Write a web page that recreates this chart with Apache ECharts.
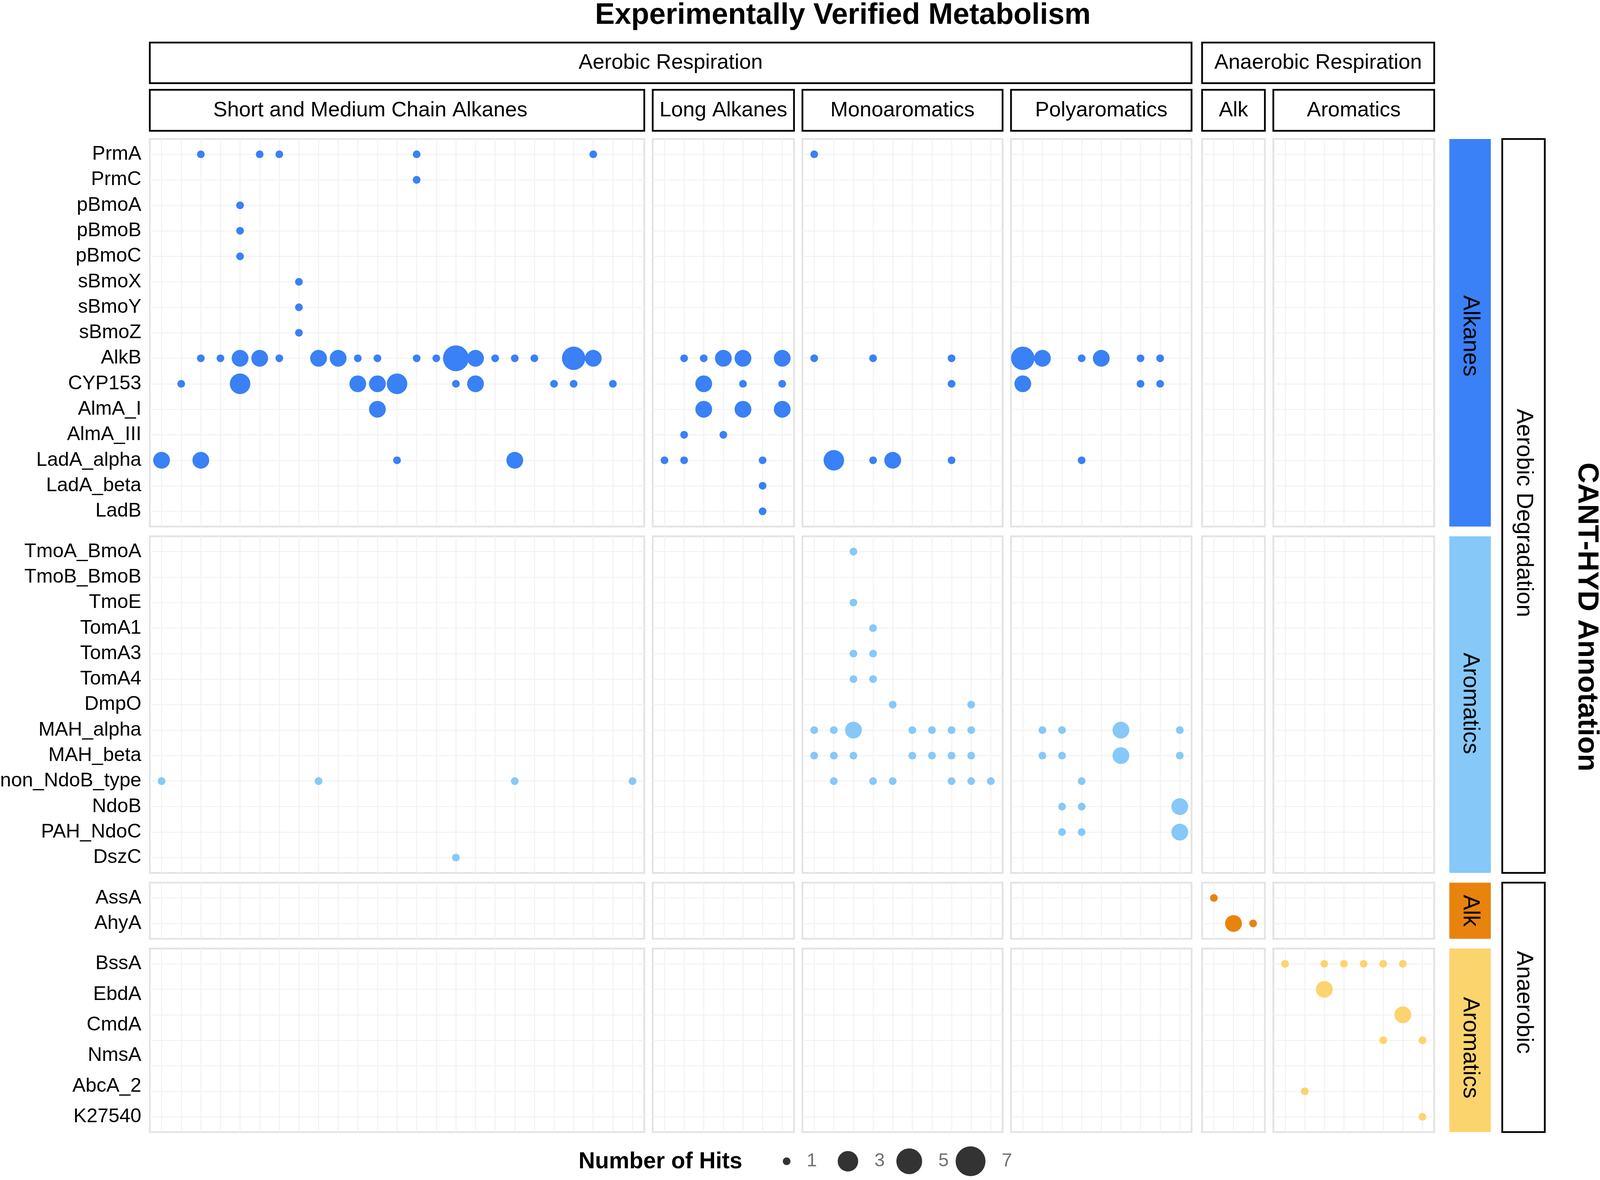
<!DOCTYPE html>
<html><head><meta charset="utf-8">
<script src="https://cdn.jsdelivr.net/npm/echarts@6/dist/echarts.min.js"></script>
<style>html,body{margin:0;padding:0;background:#fff;overflow:hidden}#c{width:100vw;height:100vh}</style>
</head><body><div id="c"></div>
<script>
// ---------------- DATA ----------------
const titleText = 'Experimentally Verified Metabolism';
const annotationTitle = 'CANT-HYD Annotation';
const legendTitle = 'Number of Hits';
const legendBreaks = [1, 3, 5, 7];
const hitRange = [1, 7];

const respirationGroups = ['Aerobic Respiration', 'Anaerobic Respiration'];
const respirationMembers = [[0, 1, 2, 3], [4, 5]];
const substrateGroups = ['Short and Medium Chain Alkanes', 'Long Alkanes', 'Monoaromatics', 'Polyaromatics', 'Alk', 'Aromatics'];
const organismsPerGroup = [25, 7, 10, 9, 3, 8];

const degradationGroups = ['Aerobic Degradation', 'Anaerobic'];
const degradationMembers = [[0, 1], [2, 3]];
const enzymeClasses = ['Alkanes', 'Aromatics', 'Alk', 'Aromatics'];
const classColors = ['#3A80F6', '#86C8F8', '#E8830E', '#FCD46E'];

const aerobicAlkaneGenes = ['PrmA', 'PrmC', 'pBmoA', 'pBmoB', 'pBmoC', 'sBmoX', 'sBmoY', 'sBmoZ', 'AlkB', 'CYP153', 'AlmA_I', 'AlmA_III', 'LadA_alpha', 'LadA_beta', 'LadB'];
const aerobicAromaticGenes = ['TmoA_BmoA', 'TmoB_BmoB', 'TmoE', 'TomA1', 'TomA3', 'TomA4', 'DmpO', 'MAH_alpha', 'MAH_beta', 'non_NdoB_type', 'NdoB', 'PAH_NdoC', 'DszC'];
const anaerobicAlkaneGenes = ['AssA', 'AhyA'];
const anaerobicAromaticGenes = ['BssA', 'EbdA', 'CmdA', 'NmsA', 'AbcA_2', 'K27540'];
// panel rows as drawn (one grid row carries no label in the source figure)
const anaerobicAromaticRows = ['BssA', 'EbdA', 'CmdA', 'NmsA', null, 'AbcA_2', 'K27540'];

// [gene, organism column within substrate group, number of hits]
const hitsShortMediumAlkanes = [
  ['PrmA',3,1],['PrmA',6,1],['PrmA',7,1],['PrmA',14,1],['PrmA',23,1],
  ['PrmC',14,1],
  ['pBmoA',5,1],['pBmoB',5,1],['pBmoC',5,1],
  ['sBmoX',8,1],['sBmoY',8,1],['sBmoZ',8,1],
  ['AlkB',3,1],['AlkB',4,1],['AlkB',5,2],['AlkB',6,2],['AlkB',7,1],['AlkB',9,2],['AlkB',10,2],['AlkB',11,1],['AlkB',12,1],
  ['AlkB',14,1],['AlkB',15,1],['AlkB',16,5],['AlkB',17,2],['AlkB',18,1],['AlkB',19,1],['AlkB',20,1],['AlkB',22,4],['AlkB',23,2],
  ['CYP153',2,1],['CYP153',5,3],['CYP153',11,2],['CYP153',12,2],['CYP153',13,3],['CYP153',16,1],['CYP153',17,2],
  ['CYP153',21,1],['CYP153',22,1],['CYP153',24,1],
  ['AlmA_I',12,2],
  ['LadA_alpha',1,2],['LadA_alpha',3,2],['LadA_alpha',13,1],['LadA_alpha',19,2],
  ['non_NdoB_type',1,1],['non_NdoB_type',9,1],['non_NdoB_type',19,1],['non_NdoB_type',25,1],
  ['DszC',16,1]
];
const hitsLongAlkanes = [
  ['AlkB',2,1],['AlkB',3,1],['AlkB',4,2],['AlkB',5,2],['AlkB',7,2],
  ['CYP153',3,2],['CYP153',5,1],['CYP153',7,1],
  ['AlmA_I',3,2],['AlmA_I',5,2],['AlmA_I',7,2],
  ['AlmA_III',2,1],['AlmA_III',4,1],
  ['LadA_alpha',1,1],['LadA_alpha',2,1],['LadA_alpha',6,1],
  ['LadA_beta',6,1],['LadB',6,1]
];
const hitsMonoaromatics = [
  ['PrmA',1,1],
  ['AlkB',1,1],['AlkB',4,1],['AlkB',8,1],
  ['CYP153',8,1],
  ['LadA_alpha',2,3],['LadA_alpha',4,1],['LadA_alpha',5,2],['LadA_alpha',8,1],
  ['TmoA_BmoA',3,1],['TmoE',3,1],['TomA1',4,1],['TomA3',3,1],['TomA3',4,1],['TomA4',3,1],['TomA4',4,1],
  ['DmpO',5,1],['DmpO',9,1],
  ['MAH_alpha',1,1],['MAH_alpha',2,1],['MAH_alpha',3,2],['MAH_alpha',6,1],['MAH_alpha',7,1],['MAH_alpha',8,1],['MAH_alpha',9,1],
  ['MAH_beta',1,1],['MAH_beta',2,1],['MAH_beta',3,1],['MAH_beta',6,1],['MAH_beta',7,1],['MAH_beta',8,1],['MAH_beta',9,1],
  ['non_NdoB_type',2,1],['non_NdoB_type',4,1],['non_NdoB_type',5,1],['non_NdoB_type',8,1],['non_NdoB_type',9,1],['non_NdoB_type',10,1]
];
const hitsPolyaromatics = [
  ['AlkB',1,4],['AlkB',2,2],['AlkB',4,1],['AlkB',5,2],['AlkB',7,1],['AlkB',8,1],
  ['CYP153',1,2],['CYP153',7,1],['CYP153',8,1],
  ['LadA_alpha',4,1],
  ['MAH_alpha',2,1],['MAH_alpha',3,1],['MAH_alpha',6,2],['MAH_alpha',9,1],
  ['MAH_beta',2,1],['MAH_beta',3,1],['MAH_beta',6,2],['MAH_beta',9,1],
  ['non_NdoB_type',4,1],
  ['NdoB',3,1],['NdoB',4,1],['NdoB',9,2],
  ['PAH_NdoC',3,1],['PAH_NdoC',4,1],['PAH_NdoC',9,2]
];
const hitsAnaerobicAlk = [['AssA',1,1],['AhyA',2,2],['AhyA',3,1]];
const hitsAnaerobicAromatics = [
  ['BssA',1,1],['BssA',3,1],['BssA',4,1],['BssA',5,1],['BssA',6,1],['BssA',7,1],
  ['EbdA',3,2],['CmdA',7,2],['NmsA',6,1],['NmsA',8,1],['AbcA_2',2,1],['K27540',8,1]
];

// ---------------- LAYOUT / STYLE ----------------
const FONT = '"Liberation Sans", Arial, Helvetica, sans-serif';
const DESIGN_W = 4550, DESIGN_H = 3022;
const vw = window.innerWidth || DESIGN_W, vh = window.innerHeight || DESIGN_H;
const SX = vw / DESIGN_W, SY = vh / DESIGN_H, FS = Math.min(SX, SY);
const X = (v) => v * SX, Y = (v) => v * SY, F = (v) => v * FS;

const hitsBySubstrate = [hitsShortMediumAlkanes, hitsLongAlkanes, hitsMonoaromatics, hitsPolyaromatics, hitsAnaerobicAlk, hitsAnaerobicAromatics];
const rowsByClass = [aerobicAlkaneGenes, aerobicAromaticGenes, anaerobicAlkaneGenes, anaerobicAromaticRows];
const labelsByClass = [aerobicAlkaneGenes, aerobicAromaticGenes, anaerobicAlkaneGenes, anaerobicAromaticGenes];
const sizeRange = [22, 85];
const PAD = 0.6;
const colUnit = 55.8, rowUnit = 65.3;
const panelLeft = 426, panelTop = 356;
const colGaps = [24, 24, 24, 30, 24];
const rowGaps = [25, 25, 25];
const substrateTextShift = [-76, 0, 0, 0, 0, 0];
const classTextShift = [8, -3, 0, 19];
const degradationTextShift = [18, -13];

function hitSize(v) {
  const t = (v - hitRange[0]) / (hitRange[1] - hitRange[0]);
  return F(sizeRange[0] + (sizeRange[1] - sizeRange[0]) * Math.sqrt(Math.max(0, t)));
}
function seq(n) { const a = []; for (let i = 1; i <= n; i++) a.push(i); return a; }

const xs = [], ws = [];
let cx = panelLeft;
organismsPerGroup.forEach((n, i) => { xs.push(cx); const w = (n - 1 + 2 * PAD) * colUnit; ws.push(w); cx += w + (colGaps[i] || 0); });
const ys = [], hs = [];
let cy = panelTop;
rowsByClass.forEach((rows, i) => { ys.push(cy); const h = (rows.length - 1 + 2 * PAD) * rowUnit; hs.push(h); cy += h + (rowGaps[i] || 0); });
const panelRight = xs[xs.length - 1] + ws[ws.length - 1];

const gridLine = { show: true, lineStyle: { color: '#F2F2F2', width: F(3) } };
const grids = [], xAxes = [], yAxes = [], series = [];
rowsByClass.forEach((rows, r) => {
  const labels = labelsByClass[r];
  const labelPos = labels.map((_, i) => labels.length === rows.length ? i + 1 : 1 + i * (rows.length - 1) / (labels.length - 1));
  organismsPerGroup.forEach((n, c) => {
    const gi = grids.length;
    grids.push({ left: X(xs[c]), top: Y(ys[r]), width: X(ws[c]), height: Y(hs[r]), show: true, borderColor: '#E3E3E3', borderWidth: F(5),
      backgroundColor: '#fff', containLabel: false, outerBoundsMode: 'none' });
    xAxes.push({ gridIndex: gi, type: 'value', min: 1 - PAD, max: n + PAD, axisLine: { show: false },
      axisTick: { show: false, customValues: seq(n) }, axisLabel: { show: false, customValues: seq(n) }, splitLine: gridLine });
    yAxes.push({ gridIndex: gi, type: 'value', inverse: true, min: 1 - PAD, max: rows.length + PAD, axisLine: { show: false },
      axisTick: { show: false, customValues: seq(rows.length) },
      axisLabel: { show: c === 0, customValues: labelPos, margin: X(24), fontSize: F(56), color: '#000', fontFamily: FONT,
        formatter: (v) => { const k = labelPos.findIndex(p => Math.abs(p - v) < 1e-6); return k >= 0 ? labels[k] : ''; } },
      splitLine: gridLine });
    const data = hitsBySubstrate[c].filter(h => rows.indexOf(h[0]) >= 0).map(h => [h[1], rows.indexOf(h[0]) + 1, h[2]]);
    series.push({ type: 'scatter', xAxisIndex: gi, yAxisIndex: gi, data, symbol: 'circle',
      symbolSize: (v) => hitSize(v[2]), itemStyle: { color: classColors[r], opacity: 1 }, silent: true, z: 3 });
  });
});

// legend as a small scatter panel
const legendY = 2974;
const lgi = grids.length;
grids.push({ left: X(2237), width: X(523), top: Y(legendY - 50), height: Y(100), show: false, containLabel: false, outerBoundsMode: 'none' });
xAxes.push({ gridIndex: lgi, type: 'value', min: legendBreaks[0], max: legendBreaks[legendBreaks.length - 1], show: false });
yAxes.push({ gridIndex: lgi, type: 'value', min: 0, max: 1, show: false });
series.push({ type: 'scatter', xAxisIndex: lgi, yAxisIndex: lgi, silent: true, symbol: 'circle',
  data: legendBreaks.map(b => [b, 0.5, b]), symbolSize: (v) => hitSize(v[2]), itemStyle: { color: '#000' },
  label: { show: true, position: 'right', distance: X(46), formatter: (p) => String(p.value[2]), fontSize: F(53), color: '#4D4D4D', fontFamily: FONT } });

// strips and titles
function txt(x, y, text, size, opts) {
  opts = opts || {};
  return { type: 'text', x: X(x), y: Y(y), rotation: opts.rot || 0, z: 10, silent: true,
    style: { text, x: 0, y: 0, fill: opts.color || '#000', fontSize: F(size), fontFamily: FONT, fontWeight: opts.bold ? 'bold' : 'normal',
      align: 'center', verticalAlign: 'middle', textAlign: 'center', textVerticalAlign: 'middle' } };
}
function box(x, y, w, h, fill, stroke) {
  return { type: 'rect', z: 9, silent: true, shape: { x: X(x), y: Y(y), width: X(w), height: Y(h) },
    style: { fill, stroke: stroke || null, lineWidth: stroke ? F(5) : 0 } };
}
const graphics = [];
graphics.push(txt(2397, 40, titleText, 84, { bold: true }));
respirationGroups.forEach((name, i) => {
  const m = respirationMembers[i];
  const x0 = xs[m[0]], x1 = xs[m[m.length - 1]] + ws[m[m.length - 1]];
  graphics.push(box(x0, 109, x1 - x0, 104, '#fff', '#000'));
  graphics.push(txt((x0 + x1) / 2, 161, name, 60));
});
substrateGroups.forEach((name, c) => {
  graphics.push(box(xs[c], 230, ws[c], 105, '#fff', '#000'));
  graphics.push(txt(xs[c] + ws[c] / 2 + substrateTextShift[c], 283, name, 60));
});
const stripX = panelRight + 43, stripW = 118;
enzymeClasses.forEach((name, r) => {
  graphics.push(box(stripX, ys[r], stripW, hs[r], classColors[r], null));
  graphics.push(txt(stripX + stripW / 2, ys[r] + hs[r] / 2 + classTextShift[r], name, 65, { rot: -Math.PI / 2 }));
});
const outerX = 4272, outerW = 121;
degradationGroups.forEach((name, i) => {
  const m = degradationMembers[i];
  const y0 = ys[m[0]], y1 = ys[m[m.length - 1]] + hs[m[m.length - 1]];
  graphics.push(box(outerX, y0, outerW, y1 - y0, '#fff', '#000'));
  graphics.push(txt(outerX + outerW / 2, (y0 + y1) / 2 + degradationTextShift[i], name, 65, { rot: -Math.PI / 2 }));
});
graphics.push(txt(4512, 1580, annotationTitle, 82, { bold: true, rot: -Math.PI / 2 }));
graphics.push(txt(1878, legendY + 2, legendTitle, 65, { bold: true }));

const chart = echarts.init(document.getElementById('c'), null, { renderer: 'canvas', width: vw, height: vh });
chart.setOption({
  animation: false,
  backgroundColor: '#fff',
  textStyle: { fontFamily: FONT },
  grid: grids, xAxis: xAxes, yAxis: yAxes, series,
  graphic: { elements: graphics }
});
</script></body></html>
